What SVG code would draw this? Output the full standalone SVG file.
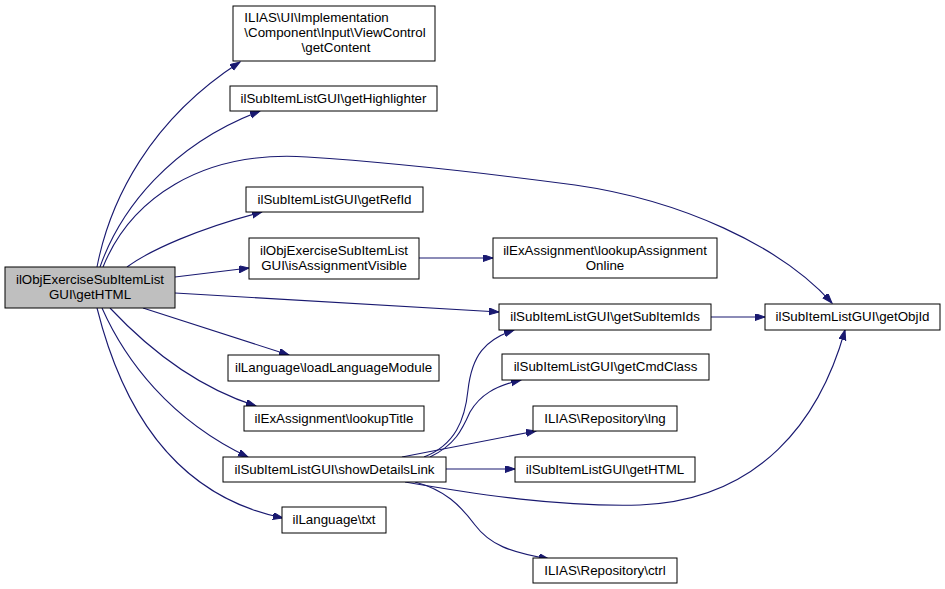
<svg xmlns="http://www.w3.org/2000/svg" width="945" height="589" viewBox="0 0 945 589">
<style>
.n rect{fill:#ffffff;stroke:#000000;stroke-width:1}
.n.main rect{fill:#bfbfbf}
.n text{font-family:"Liberation Sans",Arial,sans-serif;font-size:13.33px;fill:#000000;text-anchor:middle}
.e path{fill:none;stroke:#191970;stroke-width:1.1}
</style>
<defs>
<marker id="arr" markerUnits="userSpaceOnUse" markerWidth="11" markerHeight="8" refX="10" refY="3.5" orient="auto">
<path d="M0,0 L10,3.5 L0,7 z" fill="#191970" stroke="#191970" stroke-width="1"/>
</marker>
</defs>
<rect width="945" height="589" fill="#ffffff"/>
<g id="edges" class="e">
<path marker-end="url(#arr)" d="M97,267 C110,200 150,120 240,62"/>
<path marker-end="url(#arr)" d="M100,267 C120,210 170,145 260,111"/>
<path marker-end="url(#arr)" d="M103,267 C130,200 200,150 307,157 C400,163 500,175 575,185 C680,200 780,245 832,303"/>
<path marker-end="url(#arr)" d="M127,267 C150,250 200,228 262,212"/>
<path marker-end="url(#arr)" d="M175,277 L249,268"/>
<path marker-end="url(#arr)" d="M175,293 L499,312"/>
<path marker-end="url(#arr)" d="M143,308 L289,355"/>
<path marker-end="url(#arr)" d="M110,308 C140,340 190,385 256,406"/>
<path marker-end="url(#arr)" d="M102,308 C125,360 170,420 248,457"/>
<path marker-end="url(#arr)" d="M97,308 C120,400 170,495 283,518"/>
<path marker-end="url(#arr)" d="M419,258 L493,258"/>
<path marker-end="url(#arr)" d="M711,317 L765,317"/>
<path marker-end="url(#arr)" d="M424,457 C455,445 465,420 468,390 C472,355 485,340 514,330"/>
<path marker-end="url(#arr)" d="M430,457 C455,445 462,430 470,412 C480,395 495,386 521,380"/>
<path marker-end="url(#arr)" d="M402,457 L536,431"/>
<path marker-end="url(#arr)" d="M446,469 L515,469"/>
<path marker-end="url(#arr)" d="M405,482 C480,495 560,507 640,505 C760,500 820,420 845,330"/>
<path marker-end="url(#arr)" d="M415,482 C445,490 460,505 475,525 C490,545 510,552 549,559"/>
</g>
<g id="node_main" class="n main"><rect x="5" y="267" width="170" height="41"/><text x="90" y="284">ilObjExerciseSubItemList</text><text x="90" y="299">GUI\getHTML</text></g>
<g id="node_getContent" class="n"><rect x="233" y="6" width="202" height="55"/><text x="316.5" y="22">ILIAS\UI\Implementation</text><text x="335" y="37">\Component\Input\ViewControl</text><text x="336" y="52">\getContent</text></g>
<g id="node_getHighlighter" class="n"><rect x="230" y="86" width="207" height="25"/><text x="333.5" y="103">ilSubItemListGUI\getHighlighter</text></g>
<g id="node_getRefId" class="n"><rect x="246" y="187" width="177" height="25"/><text x="334.5" y="204">ilSubItemListGUI\getRefId</text></g>
<g id="node_isAssignmentVisible" class="n"><rect x="249" y="238" width="170" height="41"/><text x="334" y="255">ilObjExerciseSubItemList</text><text x="334" y="270">GUI\isAssignmentVisible</text></g>
<g id="node_lookupAssignmentOnline" class="n"><rect x="493" y="238" width="224" height="40"/><text x="605" y="255">ilExAssignment\lookupAssignment</text><text x="605" y="270">Online</text></g>
<g id="node_getSubItemIds" class="n"><rect x="499" y="304" width="212" height="26"/><text x="605" y="321">ilSubItemListGUI\getSubItemIds</text></g>
<g id="node_getObjId" class="n"><rect x="765" y="304" width="175" height="26"/><text x="852.5" y="321">ilSubItemListGUI\getObjId</text></g>
<g id="node_loadLanguageModule" class="n"><rect x="228" y="355" width="211" height="26"/><text x="333.5" y="372">ilLanguage\loadLanguageModule</text></g>
<g id="node_lookupTitle" class="n"><rect x="244" y="406" width="180" height="25"/><text x="334" y="423">ilExAssignment\lookupTitle</text></g>
<g id="node_showDetailsLink" class="n"><rect x="223" y="457" width="223" height="25"/><text x="334.5" y="474">ilSubItemListGUI\showDetailsLink</text></g>
<g id="node_txt" class="n"><rect x="282" y="507" width="104" height="26"/><text x="334" y="524">ilLanguage\txt</text></g>
<g id="node_getCmdClass" class="n"><rect x="502" y="354" width="207" height="26"/><text x="605.5" y="371">ilSubItemListGUI\getCmdClass</text></g>
<g id="node_lng" class="n"><rect x="533" y="406" width="144" height="25"/><text x="605" y="423">ILIAS\Repository\lng</text></g>
<g id="node_getHTML" class="n"><rect x="515" y="457" width="180" height="25"/><text x="605" y="474">ilSubItemListGUI\getHTML</text></g>
<g id="node_ctrl" class="n"><rect x="533" y="558" width="144" height="25"/><text x="605" y="575">ILIAS\Repository\ctrl</text></g>
</svg>
